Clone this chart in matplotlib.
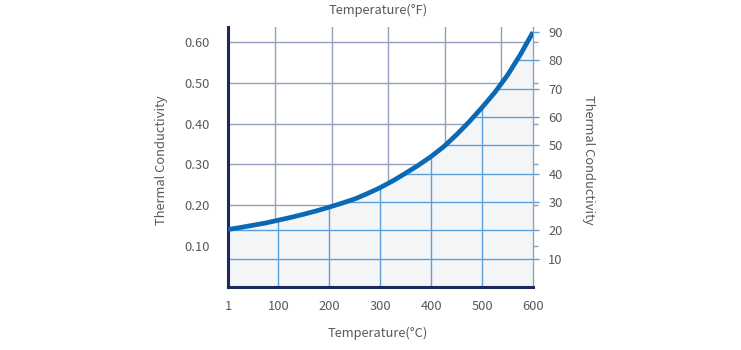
import matplotlib
matplotlib.use("Agg")
import matplotlib.pyplot as plt
from matplotlib.patches import Polygon

plt.rcParams['font.family'] = ['Noto Sans CJK KR', 'DejaVu Sans']

# ---- data ----
temps_c = [1, 25, 50, 75, 100, 125, 150, 175, 200, 225, 250, 275, 300,
           325, 350, 375, 400, 425, 450, 475, 500, 525, 550, 575, 600]
conductivity = [20.3, 21.0, 21.8, 22.6, 23.6, 24.6, 25.7, 26.9, 28.2, 29.6,
                31.1, 33.0, 35.1, 37.5, 40.2, 43.0, 46.1, 49.6, 53.8, 58.4,
                63.4, 68.7, 74.8, 82.0, 90.0]
x_ticks = [1, 100, 200, 300, 400, 500, 600]
x_grid_c = [100, 200, 300, 400, 500]
f_grid = [200, 400, 600, 800, 1000]
left_ticks = [0.10, 0.20, 0.30, 0.40, 0.50, 0.60]
left_labels = ["0.10", "0.20", "0.30", "0.40", "0.50", "0.60"]
right_ticks = [10, 20, 30, 40, 50, 60, 70, 80, 90]

GRAY_GRID = "#939fbc"
BLUE_GRID = "#5a9fd8"
NAVY = "#1b2a5c"
CURVE = "#0a69b5"
FILL = "#f4f5f7"
TXT = "#595959"
FS = 9.3

fig = plt.figure(figsize=(7.41, 3.5), dpi=100)
ax = fig.add_axes([227.5/741, 1-287/350, (533-227.5)/741, (287-27)/350])
ax2 = ax.twinx()

ax.set_xlim(0, 600)
ax.set_ylim(0, 0.6367)
ax2.set_ylim(0, 91.8)

# gray grid (left axis + Fahrenheit)
for f in f_grid:
    c = (f - 32) * 5 / 9
    ax.axvline(c, color=GRAY_GRID, lw=1.0, zorder=1)
ytr = ax.get_yaxis_transform()
ax.hlines(left_ticks, 0, 1.017, transform=ytr, color=GRAY_GRID, lw=1.0,
          clip_on=False, zorder=1)

for s in ax.spines.values():
    s.set_visible(False)
ax.set_xticks(x_ticks)
ax.set_xticklabels([str(t) for t in x_ticks])
ax.set_yticks(left_ticks)
ax.set_yticklabels(left_labels)
ax.tick_params(axis='y', length=0, pad=13, labelsize=FS, labelcolor=TXT)
ax.tick_params(axis='x', length=0, pad=9, labelsize=FS, labelcolor=TXT)

# fill under curve
verts = [(temps_c[0], 0)] + list(zip(temps_c, conductivity)) + [(temps_c[-1], 0)]
poly = Polygon(verts, closed=True, transform=ax2.transData,
               facecolor=FILL, edgecolor='none', zorder=1)
ax2.add_patch(poly)

# blue grid (Celsius + right axis) clipped to fill
for c in x_grid_c:
    ln = ax2.axvline(c, color=BLUE_GRID, lw=1.0, zorder=2)
    ln.set_clip_path(poly)
hl = ax2.hlines(right_ticks, 0, 600, color=BLUE_GRID, lw=1.0, zorder=2)
hl.set_clip_path(poly)

ax2.plot(temps_c, conductivity, color=CURVE, lw=3.4, zorder=3,
         solid_capstyle='butt', solid_joinstyle='round')

ax2.set_yticks(right_ticks)
ax2.set_yticklabels([str(t) for t in right_ticks])
ax2.tick_params(axis='y', length=4, width=1, color=BLUE_GRID, pad=7,
                labelsize=FS, labelcolor=TXT)

ax2.spines['top'].set_visible(False)
ax2.spines['left'].set_color(NAVY)
ax2.spines['left'].set_linewidth(2.2)
ax2.spines['bottom'].set_color(NAVY)
ax2.spines['bottom'].set_linewidth(2.2)
ax2.spines['right'].set_color(GRAY_GRID)
ax2.spines['right'].set_linewidth(1.0)

fig.text(378/741, 1-10/350, "Temperature(°F)", ha='center', va='center',
         fontsize=FS, color=TXT)
fig.text(378/741, 1-333/350, "Temperature(°C)", ha='center', va='center',
         fontsize=FS, color=TXT)
fig.text(161.5/741, 1-160/350, "Thermal Conductivity", ha='center', va='center',
         rotation=90, fontsize=FS, color=TXT)
fig.text(589/741, 1-160/350, "Thermal Conductivity", ha='center', va='center',
         rotation=270, fontsize=FS, color=TXT)

fig.savefig("out.png", dpi=100)
